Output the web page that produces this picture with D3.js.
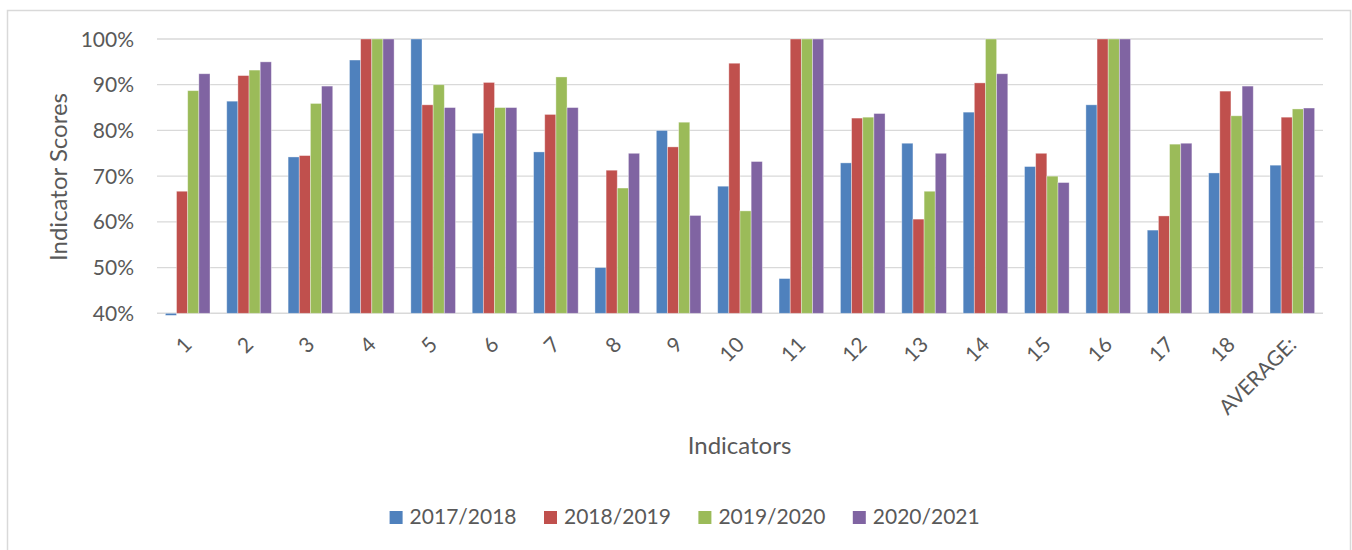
<!DOCTYPE html>
<head>
  <meta charset="utf-8">
  <script src="https://d3js.org/d3.v7.min.js"></script>
  <style>
    body { margin:0; background:#fff; }
    svg { font-family: Lato, "Open Sans", sans-serif; }
    text { fill:#595959; }
  </style>
</head>
<body>
<svg width="1352" height="550"></svg>

<script>
  var categories = ["1","2","3","4","5","6","7","8","9","10","11","12","13","14","15","16","17","18","AVERAGE:"];
  var seriesNames = ["2017/2018","2018/2019","2019/2020","2020/2021"];
  var s2017 = [0, 86.4, 74.2, 95.4, 100, 79.4, 75.3, 50.0, 80.0, 67.8, 47.6, 72.9, 77.2, 84.0, 72.1, 85.6, 58.2, 70.7, 72.4];
  var s2018 = [66.7, 92.0, 74.5, 100, 85.6, 90.5, 83.5, 71.3, 76.4, 94.7, 100, 82.7, 60.6, 90.4, 75.0, 100, 61.3, 88.6, 82.9];
  var s2019 = [88.7, 93.2, 85.9, 100, 90.0, 85.0, 91.7, 67.4, 81.8, 62.4, 100, 82.9, 66.7, 100, 70.0, 100, 77.0, 83.2, 84.7];
  var s2020 = [92.4, 95.0, 89.7, 100, 85.0, 85.0, 85.0, 75.0, 61.4, 73.2, 100, 83.7, 75.0, 92.4, 68.6, 100, 77.2, 89.7, 84.9];
  var yTicks = [40, 50, 60, 70, 80, 90, 100];
  var colors = ["#4f81bd", "#c0504d", "#9bbb59", "#8064a2"];

  var allSeries = [s2017, s2018, s2019, s2020];
  var svg = d3.select("svg");

  // chart border
  svg.append("rect")
    .attr("x", 7.5).attr("y", 10.5)
    .attr("width", 1343).attr("height", 560)
    .attr("fill", "none").attr("stroke", "#d9d9d9").attr("stroke-width", 1.5);

  var plotL = 157, plotR = 1323, plotT = 39, plotB = 313.3;

  var x = d3.scaleBand()
    .domain(categories)
    .range([plotL, plotR])
    .paddingInner(1.5 / 5.5)
    .paddingOuter(0.75 / 5.5);

  var xs = d3.scaleBand()
    .domain(seriesNames)
    .range([0, x.bandwidth()]);

  var y = d3.scaleLinear()
    .domain([40, 100])
    .range([plotB, plotT]);

  // gridlines
  svg.append("g").selectAll("line")
    .data(yTicks)
    .enter().append("line")
    .attr("x1", plotL).attr("x2", plotR)
    .attr("y1", function(d) { return y(d); })
    .attr("y2", function(d) { return y(d); })
    .attr("stroke", "#d9d9d9")
    .attr("stroke-width", function(d) { return d === 40 ? 1.6 : 1.3; });

  // y tick labels
  svg.append("g").selectAll("text")
    .data(yTicks)
    .enter().append("text")
    .attr("x", 134)
    .attr("y", function(d) { return y(d); })
    .attr("dy", "0.36em")
    .attr("text-anchor", "end")
    .style("font-size", "21px")
    .text(function(d) { return d + "%"; });

  svg.append("clipPath").attr("id", "plot")
    .append("rect")
    .attr("x", plotL).attr("y", plotT - 1)
    .attr("width", plotR - plotL).attr("height", plotB - plotT + 3);

  var rows = categories.map(function(c, i) {
    return { cat: c, vals: allSeries.map(function(s, j) { return { name: seriesNames[j], v: s[i], k: j }; }) };
  });

  var groups = svg.append("g")
    .attr("clip-path", "url(#plot)")
    .selectAll("g")
    .data(rows)
    .enter().append("g")
    .attr("transform", function(d) { return "translate(" + x(d.cat) + ",0)"; });

  groups.selectAll("rect")
    .data(function(d) { return d.vals; })
    .enter().append("rect")
    .attr("x", function(d) { return xs(d.name); })
    .attr("width", xs.bandwidth())
    .attr("y", function(d) { return Math.min(y(d.v), plotB); })
    .attr("height", function(d) { return Math.abs(y(d.v) - plotB); })
    .attr("fill", function(d) { return colors[d.k]; })
    .attr("stroke", "#ffffff")
    .attr("stroke-opacity", 0.45)
    .attr("stroke-width", 0.8);

  // x tick labels
  svg.append("g").selectAll("text")
    .data(categories)
    .enter().append("text")
    .attr("transform", function(d) {
      return "translate(" + (x(d) + x.bandwidth() / 2 + 5.5) + ",346) rotate(-45)";
    })
    .attr("text-anchor", "end")
    .style("font-size", "21px")
    .text(function(d) { return d; });

  // axis titles
  svg.append("text")
    .attr("transform", "translate(67,177) rotate(-90)")
    .attr("text-anchor", "middle")
    .style("font-size", "24px")
    .text("Indicator Scores");

  svg.append("text")
    .attr("x", 739.5).attr("y", 454)
    .attr("text-anchor", "middle")
    .style("font-size", "24px")
    .text("Indicators");

  // legend
  var legend = svg.append("g").selectAll("g")
    .data(seriesNames)
    .enter().append("g")
    .attr("transform", function(d, i) { return "translate(" + (389.6 + i * 154.4) + ",511)"; });

  legend.append("rect")
    .attr("width", 13).attr("height", 13)
    .attr("fill", function(d, i) { return colors[i]; });

  legend.append("text")
    .attr("x", 20).attr("y", 13)
    .style("font-size", "21px")
    .text(function(d) { return d; });
</script>
</body>
